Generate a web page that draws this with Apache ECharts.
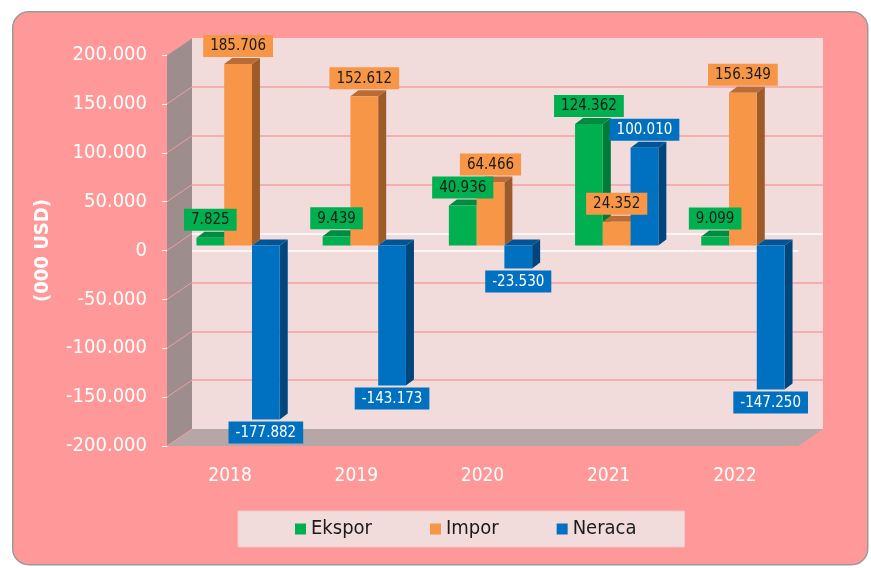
<!DOCTYPE html>
<html>
<head>
<meta charset="utf-8">
<script src="https://cdn.jsdelivr.net/npm/echarts@6/dist/echarts.min.js"></script>
<style>
    body{margin:0;background:#fff;}
    #main{width:871px;height:568px;}
</style>
</head>
<body>
<div id="main"></div>
<script>
var years = ['2018', '2019', '2020', '2021', '2022'];
var ekspor = [7825, 9439, 40936, 124362, 9099];
var impor = [185706, 152612, 64466, 24352, 156349];
var neraca = [-177882, -143173, -23530, 100010, -147250];
var yTicks = [-200000, -150000, -100000, -50000, 0, 50000, 100000, 150000, 200000];

var FONT = "'DejaVu Sans Condensed','Liberation Sans Narrow','DejaVu Sans',sans-serif";
var DX = 8, DY = 6;            // depth of a bar
var WALL_DX = 25, WALL_DY = 17; // depth of the back wall

// 185706 -> 185.706
function fmt(v) {
    var s = Math.abs(v).toString().replace(/\B(?=(\d{3})+(?!\d))/g, '.');
    return (v < 0 ? '-' : '') + s;
}

var defs = [
    {name: 'Ekspor', data: ekspor, front: '#00B050', side: '#007A37', top: '#008B40', text: '#1a1a1a', slot: -1},
    {name: 'Impor', data: impor, front: '#F79646', side: '#9E5B2A', top: '#B96C35', text: '#1a1a1a', slot: 0},
    {name: 'Neraca', data: neraca, front: '#0070C0', side: '#00467E', top: '#005596', text: '#ffffff', slot: 1}
];

function barRender(def) {
    return function (params, api) {
        var i = api.value(0), v = api.value(1);
        var base = api.coord([i, 0]);
        var end = api.coord([i, v]);
        var w = api.size([1, 0])[0] * 0.22;
        var x0 = base[0] + (def.slot - 0.5) * w, x1 = x0 + w;
        var yT = Math.min(base[1], end[1]), yB = Math.max(base[1], end[1]);
        return {
            type: 'group',
            children: [
                {type: 'polygon', shape: {points: [[x1, yT], [x1 + DX, yT - DY], [x1 + DX, yB - DY], [x1, yB]]}, style: {fill: def.side}},
                {type: 'polygon', shape: {points: [[x0, yT], [x0 + DX, yT - DY], [x1 + DX, yT - DY], [x1, yT]]}, style: {fill: def.top}},
                {type: 'rect', shape: {x: x0, y: yT, width: w, height: yB - yT}, style: {fill: def.front}},
                {
                    type: 'text', z2: 100,
                    x: (x0 + x1) / 2, y: v >= 0 ? yT - DY - 1 : yB + 2,
                    style: {
                        text: fmt(v), font: '15px ' + FONT, fill: def.text,
                        align: 'center', verticalAlign: v >= 0 ? 'bottom' : 'top',
                        backgroundColor: def.front, padding: [4, 7, 3, 7]
                    }
                }
            ]
        };
    };
}

// left wall, floor and the wall grid lines
function wallRender(params, api) {
    var cs = params.coordSys;
    var p = api.coord([0, api.value(1)]);
    var children = [];
    if (params.dataIndex === 0) {
        var yb = cs.y + cs.height, xr = cs.x + cs.width;
        children.push({type: 'polygon', shape: {points: [[cs.x, cs.y], [cs.x, yb], [cs.x - WALL_DX, yb + WALL_DY], [cs.x - WALL_DX, cs.y + WALL_DY]]}, style: {fill: '#9D8E8D'}});
        children.push({type: 'polygon', shape: {points: [[cs.x, yb], [xr, yb], [xr - WALL_DX, yb + WALL_DY], [cs.x - WALL_DX, yb + WALL_DY]]}, style: {fill: '#B7A6A6'}});
    }
    children.push({type: 'line', z2: 10, shape: {x1: cs.x, y1: p[1], x2: cs.x - WALL_DX, y2: p[1] + WALL_DY}, style: {stroke: '#F29B9B', lineWidth: 1}});
    return {type: 'group', children: children};
}

var yMin = yTicks[0], yMax = yTicks[yTicks.length - 1], yStep = yTicks[1] - yTicks[0];

var series = [{
    type: 'custom', xAxisIndex: 0, yAxisIndex: 0, z: 1, silent: true,
    renderItem: wallRender,
    data: yTicks.map(function (t) { return [0, t]; })
}];
defs.forEach(function (d) {
    series.push({
        type: 'custom', name: d.name, xAxisIndex: 1, yAxisIndex: 1,
        itemStyle: {color: d.front},
        renderItem: barRender(d),
        encode: {x: 0, y: 1},
        data: d.data.map(function (v, i) { return [i, v]; })
    });
});

var chart = echarts.init(document.getElementById('main'));
chart.setOption({
    animation: false,
    color: defs.map(function (d) { return d.front; }),
    graphic: [{
        type: 'rect', left: 12, top: 11, z: -10,
        shape: {width: 855, height: 553, r: 16},
        style: {fill: '#FF9999', stroke: '#9a9a9a', lineWidth: 1.5}
    }],
    legend: {
        data: defs.map(function (d) { return d.name; }),
        left: 238, top: 511,
        icon: 'rect', itemWidth: 11, itemHeight: 11, itemGap: 58,
        padding: [8, 48, 8, 57],
        backgroundColor: '#F2DCDB', borderColor: '#F6C6C6', borderWidth: 1,
        textStyle: {color: '#1a1a1a', fontSize: 20, fontFamily: FONT}
    },
    grid: [
        {left: 192, top: 38, width: 631, height: 391, show: true, backgroundColor: '#F2DCDB', borderWidth: 0},
        {left: 175, top: 50, width: 631, height: 391},
        {left: 167, top: 55, width: 631, height: 391}
    ],
    xAxis: [
        {gridIndex: 0, type: 'category', data: years, show: false},
        {gridIndex: 1, type: 'category', data: years, show: false},
        {
            gridIndex: 2, type: 'category', data: years, position: 'bottom',
            axisLine: {show: false, onZero: false}, axisTick: {show: false},
            axisLabel: {color: '#fff', fontSize: 19, fontFamily: FONT, margin: 21}
        },
        {
            gridIndex: 2, type: 'category', data: years, position: 'top',
            axisLine: {onZero: true, lineStyle: {color: '#fff', width: 1.5}},
            axisTick: {inside: true, length: 5, lineStyle: {color: '#fff'}},
            axisLabel: {show: false}
        }
    ],
    yAxis: [
        {
            gridIndex: 0, type: 'value', min: yMin, max: yMax, interval: yStep,
            axisLine: {show: false}, axisTick: {show: false}, axisLabel: {show: false},
            splitLine: {
                showMinLine: false, showMaxLine: false,
                lineStyle: {color: ['#F4A0A0', '#F4A0A0', '#F4A0A0', '#ffffff', '#F4A0A0', '#F4A0A0', '#F4A0A0'], width: 1.5}
            }
        },
        {gridIndex: 1, type: 'value', min: yMin, max: yMax, interval: yStep, show: false},
        {
            gridIndex: 2, type: 'value', min: yMin, max: yMax, interval: yStep,
            name: '(000 USD)', nameLocation: 'middle', nameGap: 114, nameRotate: 90,
            nameTextStyle: {color: '#fff', fontSize: 20, fontWeight: 'bold', fontFamily: FONT},
            axisLine: {show: true, lineStyle: {color: '#fff', width: 1}},
            axisTick: {show: true, length: 5, lineStyle: {color: '#fff'}},
            axisLabel: {color: '#fff', fontSize: 20, fontFamily: FONT, margin: 20, formatter: fmt},
            splitLine: {show: false}
        }
    ],
    series: series
});
</script>
</body>
</html>
